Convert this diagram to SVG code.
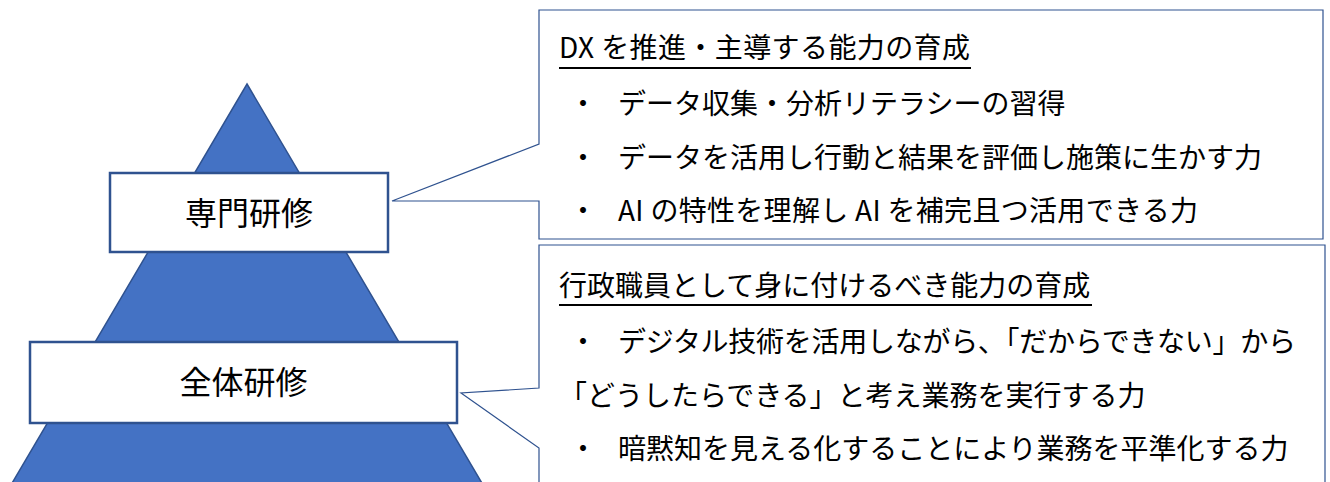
<svg xmlns="http://www.w3.org/2000/svg" width="1330" height="482" viewBox="0 0 1330 482">
<style>
.lbl{font-family:"Noto Sans CJK JP","Noto Sans",sans-serif;font-size:32px;fill:#000;text-anchor:middle}
.t{font-family:"Noto Sans CJK JP","Noto Sans",sans-serif;font-size:28px;fill:#000}
.box{fill:#fff;stroke:#2F528F;stroke-width:2.5}
.call{fill:#fff;stroke:#2F528F;stroke-width:1.2}
.ul{stroke:#000;stroke-width:2}
</style>
<rect width="1330" height="482" fill="#fff"/>
<polygon id="pyramid" points="247,84 486,490 8,490" fill="#4472C4" stroke="#2F528F" stroke-width="1.5"/>
<g id="connectors">
<path id="callout1" class="call" d="M539,10 H1323 V239 H539 V201 H392 L539,144 Z"/>
<path id="callout2" class="call" d="M539,245 H1325 V492 H539 V448 L461,393 L539,388 Z"/>
</g>
<g id="node-senmon">
<rect class="box" x="110" y="173" width="278" height="79"/>
<text class="lbl" x="249" y="225">専門研修</text>
</g>
<g id="node-zentai">
<rect class="box" x="30" y="342" width="427" height="81"/>
<text class="lbl" x="243.5" y="394">全体研修</text>
</g>
<g id="text-dx">
<text class="t" x="559" y="58" textLength="411" lengthAdjust="spacing">DX を推進・主導する能力の育成</text>
<line class="ul" x1="559" y1="68" x2="971" y2="68"/>
<text class="t" x="569" y="114">・<tspan x="618">データ収集・分析リテラシーの習得</tspan></text>
<text class="t" x="569" y="168">・<tspan x="618">データを活用し行動と結果を評価し施策に生かす力</tspan></text>
<text class="t" x="569" y="221">・<tspan x="618" textLength="580" lengthAdjust="spacing">AI の特性を理解し AI を補完且つ活用できる力</tspan></text>
</g>
<g id="text-gyosei">
<text class="t" x="559" y="296">行政職員として身に付けるべき能力の育成</text>
<line class="ul" x1="559" y1="305" x2="1092" y2="305"/>
<text class="t" x="569" y="352">・<tspan x="618" textLength="678" lengthAdjust="spacing">デジタル技術を活用しながら、「だからできない」から</tspan></text>
<text class="t" x="559" y="406">「どうしたらできる」と考え業務を実行する力</text>
<text class="t" x="569" y="459">・<tspan x="618">暗黙知を見える化することにより業務を平準化する力</tspan></text>
</g>
</svg>
